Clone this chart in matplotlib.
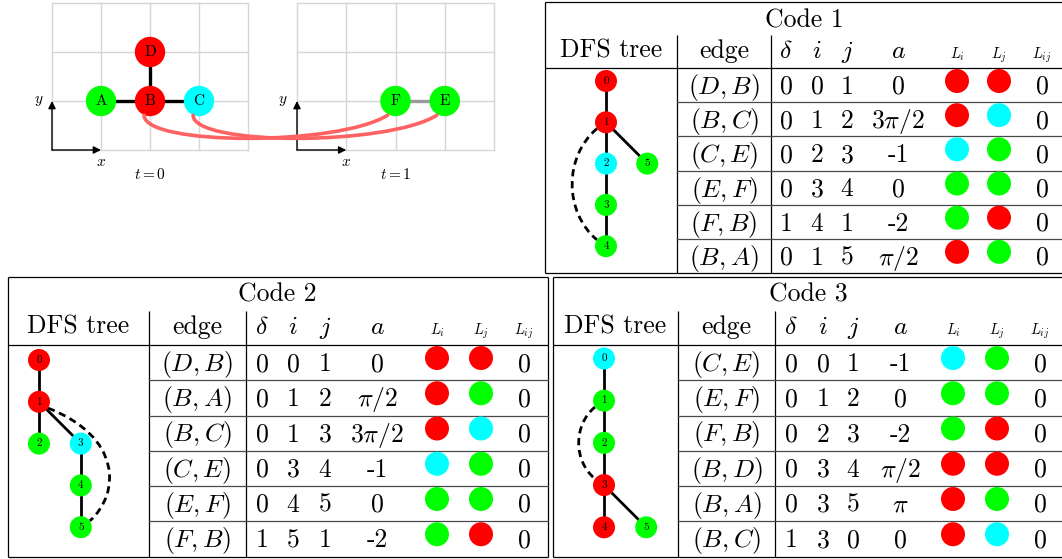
import numpy as np
import matplotlib
matplotlib.use('Agg')
import matplotlib.pyplot as plt
from matplotlib.patches import Circle, PathPatch
from matplotlib.path import Path

plt.rcParams['font.family'] = 'serif'
plt.rcParams['font.serif'] = ['cmr10', 'DejaVu Serif']
plt.rcParams['mathtext.fontset'] = 'cm'
plt.rcParams['axes.unicode_minus'] = False

COLORS = {'r': '#ff0000', 'g': '#00ff00', 'c': '#00ffff'}

# ---------------- data: graph snapshots ----------------
g0_nodes = ['A', 'B', 'C', 'D']
g0_x = [1, 2, 3, 2]
g0_y = [1, 1, 1, 2]
g0_col = ['g', 'r', 'c', 'r']
g0_edges = [('A', 'B'), ('B', 'C'), ('B', 'D')]

g1_nodes = ['F', 'E']
g1_x = [2, 3]
g1_y = [1, 1]
g1_col = ['g', 'g']
g1_edges = [('F', 'E')]

temporal_links = [('B', 'F'), ('C', 'E')]
time_labels = ['$t = 0$', '$t = 1$']

# ---------------- data: codes ----------------
titles = ['Code 1', 'Code 2', 'Code 3']
header_labels = [r'$\delta$', '$i$', '$j$', '$a$', '$L_i$', '$L_j$', '$L_{ij}$']

c1_edges = ['(D, B)', '(B, C)', '(C, E)', '(E, F)', '(F, B)', '(B, A)']
c1_delta = [0, 0, 0, 0, 1, 0]
c1_i = [0, 1, 2, 3, 4, 1]
c1_j = [1, 2, 3, 4, 1, 5]
c1_a = ['0', r'$3\pi/2$', '-1', '0', '-2', r'$\pi/2$']
c1_Li = ['r', 'r', 'c', 'g', 'g', 'r']
c1_Lj = ['r', 'c', 'g', 'g', 'r', 'g']
c1_Lij = [0, 0, 0, 0, 0, 0]
c1_tree_col = [0, 0, 0, 0, 0, 1]
c1_tree_lvl = [0, 1, 2, 3, 4, 2]
c1_back = (1, 4)

c2_edges = ['(D, B)', '(B, A)', '(B, C)', '(C, E)', '(E, F)', '(F, B)']
c2_delta = [0, 0, 0, 0, 0, 1]
c2_i = [0, 1, 1, 3, 4, 5]
c2_j = [1, 2, 3, 4, 5, 1]
c2_a = ['0', r'$\pi/2$', r'$3\pi/2$', '-1', '0', '-2']
c2_Li = ['r', 'r', 'r', 'c', 'g', 'g']
c2_Lj = ['r', 'g', 'c', 'g', 'g', 'r']
c2_Lij = [0, 0, 0, 0, 0, 0]
c2_tree_col = [0, 0, 0, 1, 1, 1]
c2_tree_lvl = [0, 1, 2, 2, 3, 4]
c2_back = (1, 5)

c3_edges = ['(C, E)', '(E, F)', '(F, B)', '(B, D)', '(B, A)', '(B, C)']
c3_delta = [0, 0, 0, 0, 0, 1]
c3_i = [0, 1, 2, 3, 3, 3]
c3_j = [1, 2, 3, 4, 5, 0]
c3_a = ['-1', '0', '-2', r'$\pi/2$', r'$\pi$', '0']
c3_Li = ['c', 'g', 'g', 'r', 'r', 'r']
c3_Lj = ['g', 'g', 'r', 'r', 'g', 'c']
c3_Lij = [0, 0, 0, 0, 0, 0]
c3_tree_col = [0, 0, 0, 0, 0, 1]
c3_tree_lvl = [0, 1, 2, 3, 4, 4]
c3_back = (1, 3)

# ---------------- layout (pixels) ----------------
W, H = 1062, 559
FS = 18.5
FS_SMALL = 10.5

layouts = [
    dict(left=545, right=1063, top=2, tb=35, hb=68, bottom=273, tdiv=677, ediv=771,
         cols=[786, 817, 847, 898, 957, 999, 1042], tx0=606, ty0=81, td=41.3,
         side=-1, bulge=0.82),
    dict(left=8, right=547.5, top=277, tb=311, hb=345, bottom=556.5, tdiv=149, ediv=245.5,
         cols=[262, 293, 325, 377, 437, 481, 524], tx0=39, ty0=360, td=41.8,
         side=1, bulge=0.65),
    dict(left=553, right=1063, top=277, tb=311, hb=345, bottom=556.5, tdiv=678, ediv=775,
         cols=[791, 823, 853, 900, 953, 997, 1040], tx0=604, ty0=358.5, td=42.2,
         side=-1, bulge=0.6),
]

codes = [
    dict(edges=c1_edges, delta=c1_delta, i=c1_i, j=c1_j, a=c1_a, Li=c1_Li, Lj=c1_Lj,
         Lij=c1_Lij, tcol=c1_tree_col, tlvl=c1_tree_lvl, back=c1_back),
    dict(edges=c2_edges, delta=c2_delta, i=c2_i, j=c2_j, a=c2_a, Li=c2_Li, Lj=c2_Lj,
         Lij=c2_Lij, tcol=c2_tree_col, tlvl=c2_tree_lvl, back=c2_back),
    dict(edges=c3_edges, delta=c3_delta, i=c3_i, j=c3_j, a=c3_a, Li=c3_Li, Lj=c3_Lj,
         Lij=c3_Lij, tcol=c3_tree_col, tlvl=c3_tree_lvl, back=c3_back),
]

fig = plt.figure(figsize=(W / 100, H / 100), dpi=100)


def px_axes(l, t, r, b):
    return fig.add_axes([l / W, 1 - b / H, (r - l) / W, (b - t) / H])


# ---------------- graph snapshots ----------------
graph_boxes = [(52, 3, 248, 150), (297, 3, 494, 150)]
graphs = [(g0_nodes, g0_x, g0_y, g0_col, g0_edges, 'black'),
          (g1_nodes, g1_x, g1_y, g1_col, g1_edges, '#9a9a9a')]
gaxes = []
node_pos = {}
for box, (names, xs, ys, cols, edges, ecol), tl in zip(graph_boxes, graphs, time_labels):
    ax = px_axes(*box)
    ax.set_xlim(0, 4)
    ax.set_ylim(0, 3)
    ax.axis('off')
    for gx in range(5):
        ax.plot([gx, gx], [0, 3], color='#d6d6d6', lw=1.0, clip_on=False, zorder=0)
    for gy in range(4):
        ax.plot([0, 4], [gy, gy], color='#d6d6d6', lw=1.0, clip_on=False, zorder=0)
    pos = {n: (x, y) for n, x, y in zip(names, xs, ys)}
    for a, b in edges:
        ax.plot([pos[a][0], pos[b][0]], [pos[a][1], pos[b][1]], color=ecol, lw=2.4,
                zorder=1, solid_capstyle='butt')
    for n, x, y, c in zip(names, xs, ys, cols):
        ax.add_patch(Circle((x, y), 0.31, facecolor=COLORS[c], edgecolor='none', zorder=2))
        ax.text(x, y, n, ha='center', va='center', fontsize=11, zorder=3)
        node_pos[n] = (ax, x, y)
    arr = dict(arrowstyle='-|>', color='black', lw=1.0, shrinkA=0, shrinkB=0,
               mutation_scale=11)
    ax.annotate('', xy=(1, 0), xytext=(0, 0), arrowprops=arr, annotation_clip=False, zorder=4)
    ax.annotate('', xy=(0, 1), xytext=(0, 0), arrowprops=arr, annotation_clip=False, zorder=4)
    ax.text(1, -0.24, '$x$', ha='center', va='center', fontsize=11)
    ax.text(-0.28, 1.0, '$y$', ha='center', va='center', fontsize=11)
    ax.text(2, -0.5, tl, ha='center', va='center', fontsize=11)
    gaxes.append(ax)

# overlay axes in pixel coordinates
ov = fig.add_axes([0, 0, 1, 1])
ov.set_xlim(0, W)
ov.set_ylim(H, 0)
ov.axis('off')
ov.patch.set_alpha(0)


def to_ov(ax, pt):
    return ov.transData.inverted().transform(ax.transData.transform(pt))


for a, b in temporal_links:
    axa, xa, ya = node_pos[a]
    axb, xb, yb = node_pos[b]
    s = (xa - 0.12, ya - 0.29)
    e = (xb - 0.16, yb - 0.29)
    p1 = (s[0], s[1] - 0.63)
    p2 = (e[0] - 1.0, e[1] - 0.63)
    verts = [to_ov(axa, s), to_ov(axa, p1), to_ov(axb, p2), to_ov(axb, e)]
    path = Path(verts, [Path.MOVETO, Path.CURVE4, Path.CURVE4, Path.CURVE4])
    ov.add_patch(PathPatch(path, facecolor='none', edgecolor='#ff6262', lw=2.6,
                           capstyle='round', zorder=5))


# ---------------- tables ----------------
def draw_table(T, C, title):
    L, R, top, tb, hb, bot = T['left'], T['right'], T['top'], T['tb'], T['hb'], T['bottom']
    n = len(C['edges'])
    rh = (bot - hb) / n
    lk = dict(color='black', lw=0.9, solid_capstyle='butt', zorder=2)
    ov.plot([L, R], [top, top], **lk)
    ov.plot([L, L], [top, bot], **lk)
    ov.plot([L, R], [bot, bot], **lk)
    ov.plot([R, R], [top, bot], **lk)
    ov.plot([L, R], [hb, hb], **lk)
    for xd in (T['tdiv'], T['ediv']):
        ov.plot([xd, xd], [tb, bot], **lk)
    for k in range(1, n):
        y = hb + k * rh
        ov.plot([T['tdiv'], R], [y, y], color='#4a4a4a', lw=0.9, zorder=2)

    ov.text((L + R) / 2, top + 25, title, ha='center', va='baseline', fontsize=FS)
    ov.text((L + T['tdiv']) / 2, tb + 23, 'DFS tree', ha='center', va='baseline', fontsize=FS)
    ecx = (T['tdiv'] + T['ediv']) / 2
    ov.text(ecx, tb + 23, 'edge', ha='center', va='baseline', fontsize=FS)
    for k, (lab, x) in enumerate(zip(header_labels, T['cols'])):
        if k < 4:
            ov.text(x, tb + 23, lab, ha='center', va='baseline', fontsize=FS)
        else:
            ov.text(x, tb + 23.5, lab, ha='center', va='baseline', fontsize=FS_SMALL)

    cx = T['cols']
    for r in range(n):
        rt = hb + r * rh
        base = rt + 26
        ov.text(ecx, base, '$' + C['edges'][r] + '$', ha='center', va='baseline', fontsize=FS)
        ov.text(cx[0], base, str(C['delta'][r]), ha='center', va='baseline', fontsize=FS)
        ov.text(cx[1], base, str(C['i'][r]), ha='center', va='baseline', fontsize=FS)
        ov.text(cx[2], base, str(C['j'][r]), ha='center', va='baseline', fontsize=FS)
        ov.text(cx[3], base, C['a'][r], ha='center', va='baseline', fontsize=FS)
        ov.add_patch(Circle((cx[4], rt + 13), 12, facecolor=COLORS[C['Li'][r]],
                            edgecolor='none', zorder=3))
        ov.add_patch(Circle((cx[5], rt + 13), 12, facecolor=COLORS[C['Lj'][r]],
                            edgecolor='none', zorder=3))
        ov.text(cx[6], base, str(C['Lij'][r]), ha='center', va='baseline', fontsize=FS)

    # DFS tree
    d = T['td']
    X = [T['tx0'] + c * d for c in C['tcol']]
    Y = [T['ty0'] + l * d for l in C['tlvl']]
    ncol = {}
    for r in range(n):
        ncol.setdefault(C['i'][r], C['Li'][r])
        ncol.setdefault(C['j'][r], C['Lj'][r])
    for r in range(n):
        if C['delta'][r] == 0:
            a, b = C['i'][r], C['j'][r]
            ov.plot([X[a], X[b]], [Y[a], Y[b]], color='black', lw=2.0, zorder=3,
                    solid_capstyle='butt')
    rad = 11
    a, b = C['back']
    side = T['side']
    ang = np.deg2rad(35)
    p0 = (X[a] + side * rad * np.cos(ang), Y[a] + rad * np.sin(ang))
    p3 = (X[b] + side * rad * np.cos(ang), Y[b] - rad * np.sin(ang))
    xm = max(X[a], X[b]) + side * T['bulge'] * d if side > 0 else min(X[a], X[b]) + side * T['bulge'] * d
    xc = (8 * xm - p0[0] - p3[0]) / 6
    k = 0.25 * (p3[1] - p0[1])
    path = Path([p0, (xc, p0[1] + k), (xc, p3[1] - k), p3],
                [Path.MOVETO, Path.CURVE4, Path.CURVE4, Path.CURVE4])
    ov.add_patch(PathPatch(path, facecolor='none', edgecolor='black', lw=2.0,
                           linestyle=(0, (2.6, 1.7)), zorder=3))
    for idx in range(len(X)):
        ov.add_patch(Circle((X[idx], Y[idx]), rad, facecolor=COLORS[ncol[idx]],
                            edgecolor='none', zorder=4))
        ov.text(X[idx], Y[idx], str(idx), ha='center', va='center', fontsize=8, zorder=5)


for T, C, title in zip(layouts, codes, titles):
    draw_table(T, C, title)

fig.savefig('out.png', dpi=100)
